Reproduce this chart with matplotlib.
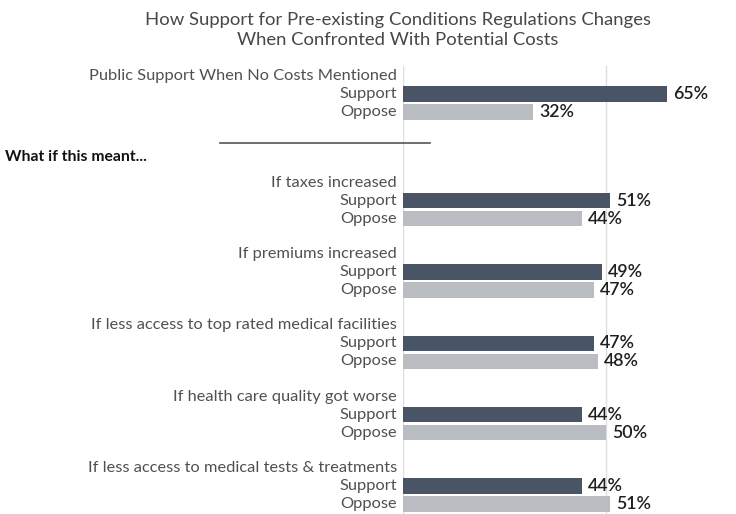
import matplotlib
matplotlib.use("Agg")
import matplotlib.pyplot as plt
from matplotlib.lines import Line2D

title = "How Support for Pre-existing Conditions Regulations Changes\nWhen Confronted With Potential Costs"
groups = [
    "Public Support When No Costs Mentioned",
    "If taxes increased",
    "If premiums increased",
    "If less access to top rated medical facilities",
    "If health care quality got worse",
    "If less access to medical tests & treatments",
]
support = [65, 51, 49, 47, 44, 44]
oppose = [32, 44, 47, 48, 50, 51]
row_labels = ["Support", "Oppose"]
heading = "What if this meant..."

C_SUP = "#4a5467"
C_OPP = "#b9bcc1"
C_TXT = "#505050"
FONT = ["Lato", "DejaVu Sans"]

W, H = 736, 514
fig = plt.figure(figsize=(W / 100, H / 100), dpi=100)
fig.patch.set_facecolor("white")

ax_left, ax_right = 403, 728
ax_top, ax_bot = 62, 514
ax = fig.add_axes([ax_left / W, 1 - ax_bot / H, (ax_right - ax_left) / W, (ax_bot - ax_top) / H])
ax.set_xlim(0, 80)
ax.set_ylim(ax_bot, ax_top)
ax.axis("off")

first_c = 94
second_c = 200.5
step = 71.4
row_gap = 18
bar_h = 15.5
centers = [first_c] + [second_c + step * (i - 1) for i in range(1, len(groups))]

for xv in (0, 50):
    ax.plot([xv, xv], [ax_top + 4, ax_bot], color="#dedede", lw=1.0, zorder=0)

LBL = 11.8
for i, g in enumerate(groups):
    ys = centers[i]
    yo = ys + row_gap
    ax.barh(ys, support[i], height=bar_h, color=C_SUP, zorder=2)
    ax.barh(yo, oppose[i], height=bar_h, color=C_OPP, zorder=2)
    ax.text(support[i] + 1.5, ys, f"{support[i]}%", va="center", ha="left",
            fontsize=12.8, color="#1f1f1f", family=FONT, fontweight="semibold")
    ax.text(oppose[i] + 1.5, yo, f"{oppose[i]}%", va="center", ha="left",
            fontsize=12.8, color="#1f1f1f", family=FONT, fontweight="semibold")
    lx = 397 / W
    fig.text(lx, 1 - (ys - row_gap) / H, g, ha="right", va="center", fontsize=LBL,
             color=C_TXT, family=FONT)
    fig.text(lx, 1 - ys / H, row_labels[0], ha="right", va="center", fontsize=LBL,
             color=C_TXT, family=FONT)
    fig.text(lx, 1 - yo / H, row_labels[1], ha="right", va="center", fontsize=LBL,
             color=C_TXT, family=FONT)

fig.text(398 / W, 1 - 30 / H, title, ha="center", va="center", fontsize=13.3,
         color="#474747", family=FONT, linespacing=1.38)
fig.text(5 / W, 1 - 157 / H, heading, ha="left", va="center", fontsize=11.3,
         color="#111111", family=FONT, fontweight="bold")
fig.add_artist(Line2D([220 / W, 430 / W], [1 - 143 / H, 1 - 143 / H], color="#555555", lw=1.2))

fig.savefig("out.png", dpi=100)
